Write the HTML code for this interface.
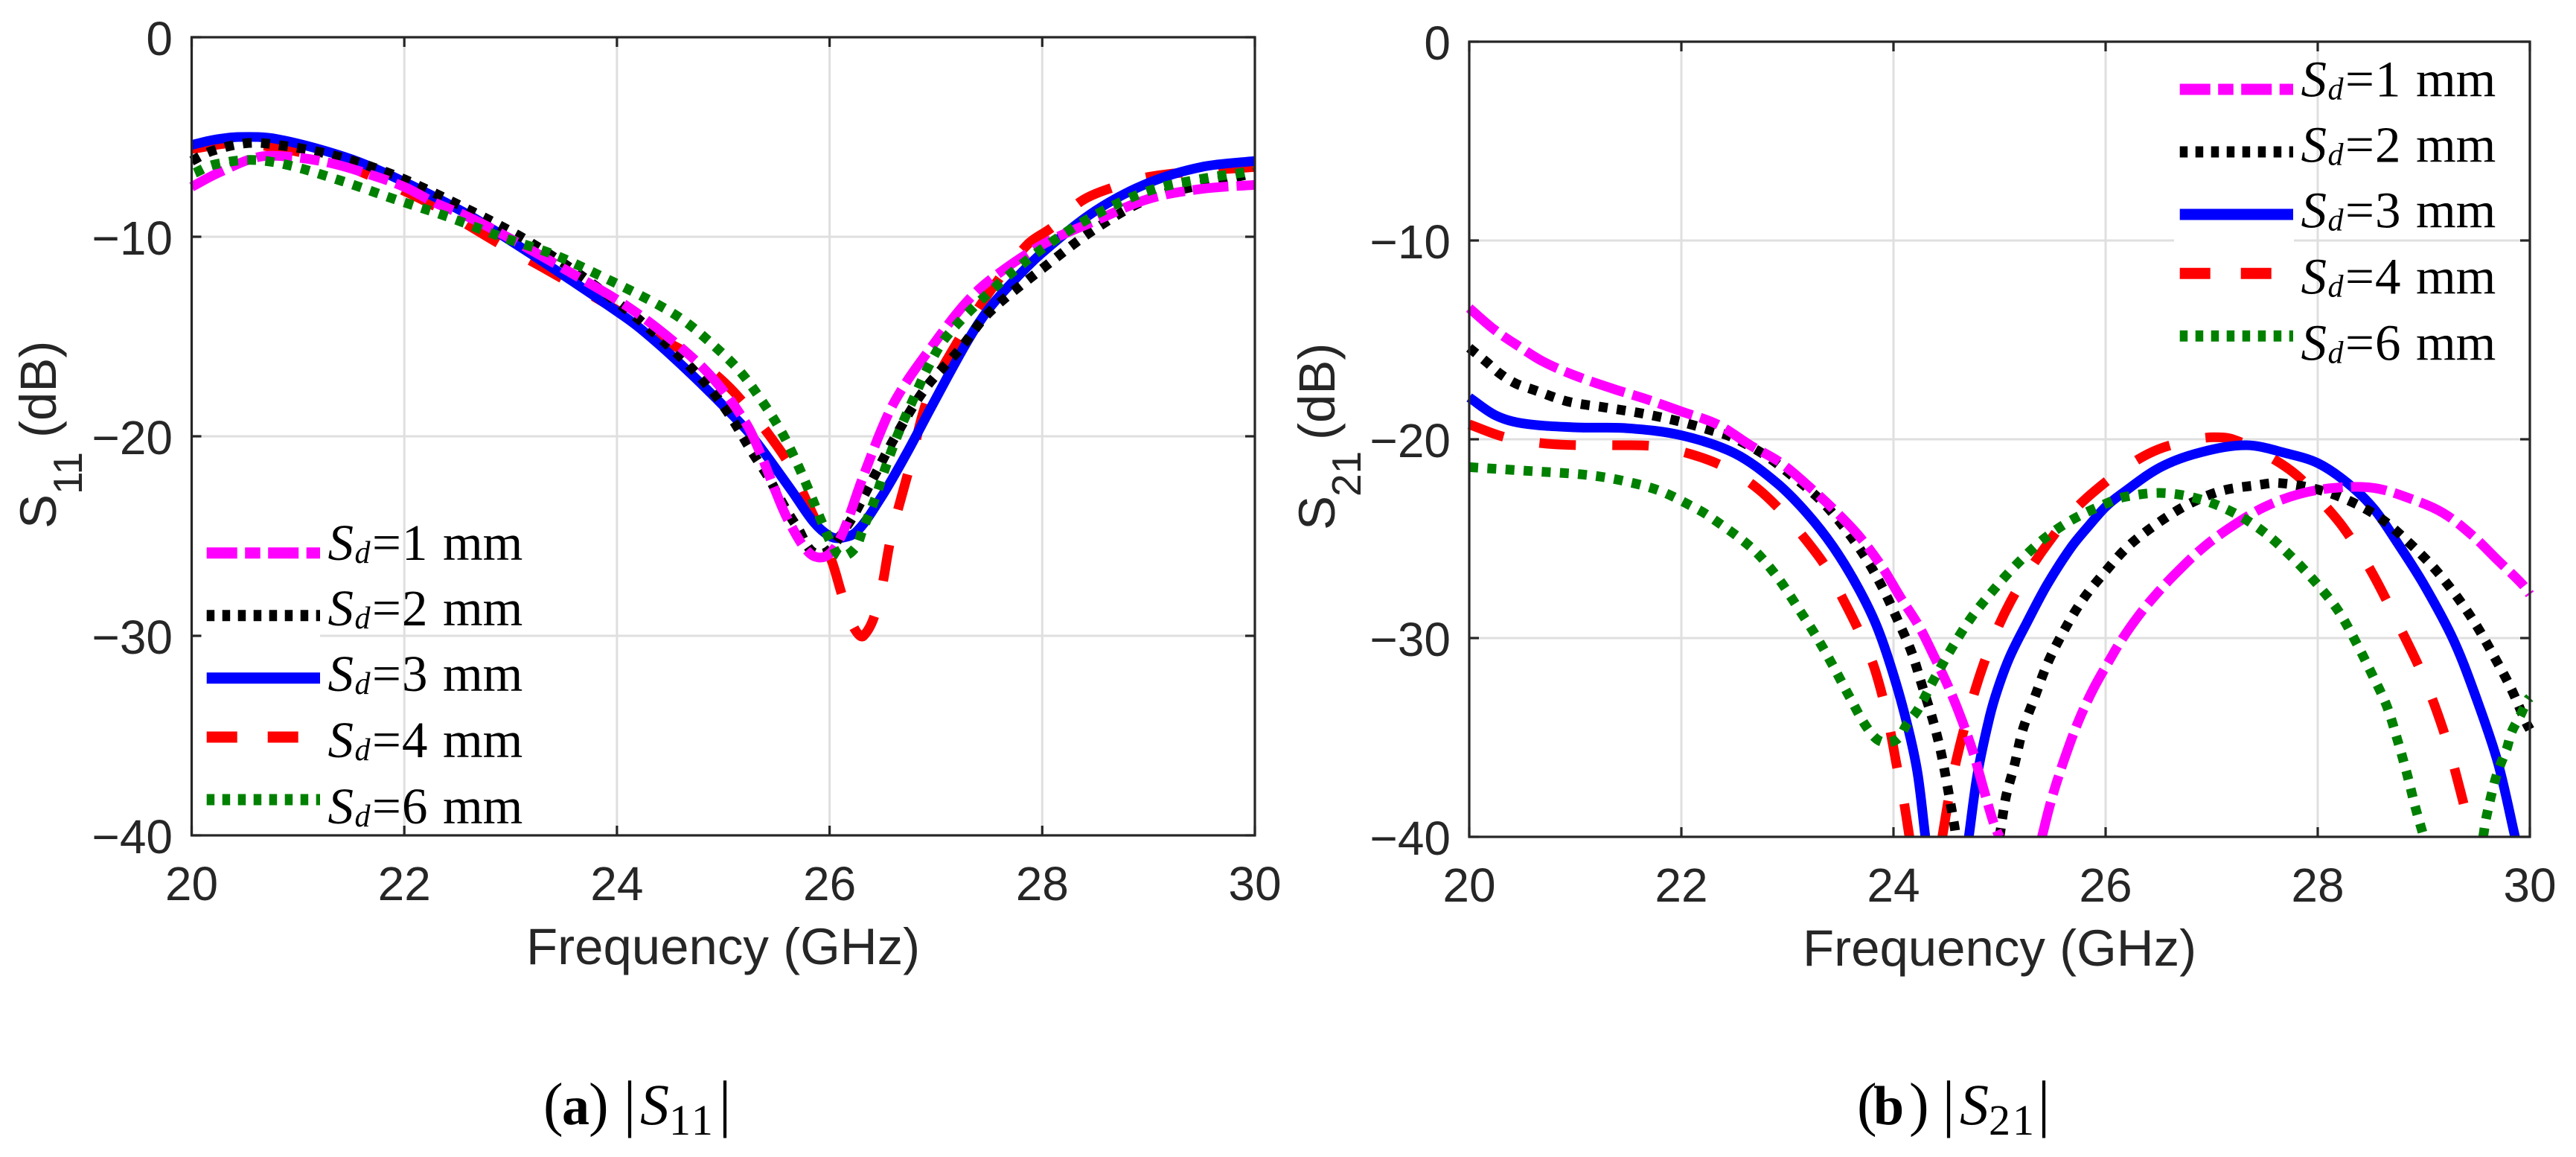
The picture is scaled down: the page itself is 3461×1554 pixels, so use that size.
<!DOCTYPE html>
<html lang="en">
<head>
<meta charset="utf-8">
<title>S11 and S21 versus frequency</title>
<style>
html,body{margin:0;padding:0;background:#fff;}
svg{display:block;}
.tick{font-family:"Liberation Sans",sans-serif;font-size:64px;fill:#262626;}
.axl{font-family:"Liberation Sans",sans-serif;font-size:69px;fill:#262626;}
.leg{font-family:"Liberation Serif",serif;font-size:69px;fill:#000;}
.cap{font-family:"Liberation Serif",serif;fill:#000;}
</style>
</head>
<body>
<svg id="fig" xmlns="http://www.w3.org/2000/svg" width="3461" height="1554" viewBox="0 0 3461 1554">
<defs>
<clipPath id="clipA"><rect x="250" y="50" width="1443" height="1072"/></clipPath>
<clipPath id="clipB"><rect x="1967" y="56" width="1440" height="1068"/></clipPath>
</defs>
<rect x="0" y="0" width="3461" height="1554" fill="#fff"/>
<g id="panelA"></g>
<g id="panelB"></g>

<text class="axl" x="971.5" y="1295" text-anchor="middle">Frequency (GHz)</text>
<text class="axl" x="2686.5" y="1297" text-anchor="middle">Frequency (GHz)</text>

<g>
<text class="axl" transform="translate(75,710) rotate(-90)">S</text>
<text class="axl" style="font-size:55px" transform="translate(110,664) rotate(-90)">11</text>
<text class="axl" transform="translate(75,588) rotate(-90)">(dB)</text>
</g>
<g>
<text class="axl" transform="translate(1793,712) rotate(-90)">S</text>
<text class="axl" style="font-size:55px" transform="translate(1828,667) rotate(-90)">21</text>
<text class="axl" transform="translate(1793,591) rotate(-90)">(dB)</text>
</g>

<g id="legendA">
<g>
<line x1="277.7" x2="430" y1="742.7" y2="742.7" stroke="#ff00ff" stroke-width="15" stroke-dasharray="41 10.5 20.5 10.5"/>
<text class="leg" y="752"><tspan x="440.5" font-style="italic">S</tspan><tspan x="476.5" dy="4" font-size="42" font-style="italic">d</tspan><tspan x="500" dy="-4">=</tspan><tspan x="540">1</tspan><tspan x="595">mm</tspan></text>
</g>
<g>
<line x1="277.7" x2="430" y1="826.7" y2="826.7" stroke="#000" stroke-width="15" stroke-dasharray="10.5 10.5"/>
<text class="leg" y="840"><tspan x="440.5" font-style="italic">S</tspan><tspan x="476.5" dy="4" font-size="42" font-style="italic">d</tspan><tspan x="500" dy="-4">=</tspan><tspan x="540">2</tspan><tspan x="595">mm</tspan></text>
</g>
<g>
<line x1="277.7" x2="430" y1="910.7" y2="910.7" stroke="#0000ff" stroke-width="15"/>
<text class="leg" y="928"><tspan x="440.5" font-style="italic">S</tspan><tspan x="476.5" dy="4" font-size="42" font-style="italic">d</tspan><tspan x="500" dy="-4">=</tspan><tspan x="540">3</tspan><tspan x="595">mm</tspan></text>
</g>
<g>
<line x1="277.7" x2="430" y1="990" y2="990" stroke="#ff0000" stroke-width="15" stroke-dasharray="41 41"/>
<text class="leg" y="1017"><tspan x="440.5" font-style="italic">S</tspan><tspan x="476.5" dy="4" font-size="42" font-style="italic">d</tspan><tspan x="500" dy="-4">=</tspan><tspan x="540">4</tspan><tspan x="595">mm</tspan></text>
</g>
<g>
<line x1="277.7" x2="430" y1="1074" y2="1074" stroke="#008000" stroke-width="15" stroke-dasharray="10.5 10.5"/>
<text class="leg" y="1106"><tspan x="440.5" font-style="italic">S</tspan><tspan x="476.5" dy="4" font-size="42" font-style="italic">d</tspan><tspan x="500" dy="-4">=</tspan><tspan x="540">6</tspan><tspan x="595">mm</tspan></text>
</g>
</g>

<g id="legendB" transform="translate(2651,-622.7)">
<g>
<line x1="277.7" x2="430" y1="742.7" y2="742.7" stroke="#ff00ff" stroke-width="15" stroke-dasharray="41 10.5 20.5 10.5"/>
<text class="leg" y="752"><tspan x="440.5" font-style="italic">S</tspan><tspan x="476.5" dy="4" font-size="42" font-style="italic">d</tspan><tspan x="500" dy="-4">=</tspan><tspan x="540">1</tspan><tspan x="595">mm</tspan></text>
</g>
<g>
<line x1="277.7" x2="430" y1="826.7" y2="826.7" stroke="#000" stroke-width="15" stroke-dasharray="10.5 10.5"/>
<text class="leg" y="840"><tspan x="440.5" font-style="italic">S</tspan><tspan x="476.5" dy="4" font-size="42" font-style="italic">d</tspan><tspan x="500" dy="-4">=</tspan><tspan x="540">2</tspan><tspan x="595">mm</tspan></text>
</g>
<g>
<line x1="277.7" x2="430" y1="910.7" y2="910.7" stroke="#0000ff" stroke-width="15"/>
<text class="leg" y="928"><tspan x="440.5" font-style="italic">S</tspan><tspan x="476.5" dy="4" font-size="42" font-style="italic">d</tspan><tspan x="500" dy="-4">=</tspan><tspan x="540">3</tspan><tspan x="595">mm</tspan></text>
</g>
<g>
<line x1="277.7" x2="430" y1="990" y2="990" stroke="#ff0000" stroke-width="15" stroke-dasharray="41 41"/>
<text class="leg" y="1017"><tspan x="440.5" font-style="italic">S</tspan><tspan x="476.5" dy="4" font-size="42" font-style="italic">d</tspan><tspan x="500" dy="-4">=</tspan><tspan x="540">4</tspan><tspan x="595">mm</tspan></text>
</g>
<g>
<line x1="277.7" x2="430" y1="1074" y2="1074" stroke="#008000" stroke-width="15" stroke-dasharray="10.5 10.5"/>
<text class="leg" y="1106"><tspan x="440.5" font-style="italic">S</tspan><tspan x="476.5" dy="4" font-size="42" font-style="italic">d</tspan><tspan x="500" dy="-4">=</tspan><tspan x="540">6</tspan><tspan x="595">mm</tspan></text>
</g>
</g>

<g>
<text class="cap" font-size="80" x="730" y="1510">(</text>
<text class="cap" font-size="74" font-weight="bold" x="755" y="1510">a</text>
<text class="cap" font-size="80" x="791" y="1510">)</text>
<text class="cap" font-size="85" x="837.5" y="1510">|</text>
<text class="cap" font-size="78" font-style="italic" x="860" y="1510">S</text>
<text class="cap" font-size="58" letter-spacing="3" x="899" y="1524">11</text>
<text class="cap" font-size="85" x="965.5" y="1510">|</text>
</g>
<g>
<text class="cap" font-size="80" x="2495" y="1510">(</text>
<text class="cap" font-size="74" font-weight="bold" x="2517" y="1510">b</text>
<text class="cap" font-size="80" x="2565" y="1510">)</text>
<text class="cap" font-size="85" x="2609.5" y="1510">|</text>
<text class="cap" font-size="78" font-style="italic" x="2633" y="1510">S</text>
<text class="cap" font-size="58" letter-spacing="3" x="2672" y="1524">21</text>
<text class="cap" font-size="85" x="2737.5" y="1510">|</text>
</g>
</svg>

<script>
// Axis tick values
var freqTicks = [20, 22, 24, 26, 28, 30];
var dbTicks = [0, -10, -20, -30, -40];

// Panel (a) |S11| readings
var s11Freq1mm = [20,20.25,20.63,20.94,21.3,21.63,22,22.29,22.6,23,23.5,24.1,24.59,24.92,25.22,25.36,25.48,25.62,25.82,25.97,26.11,26.31,26.55,26.72,26.92,27.25,27.5,28,28.5,29,29.5,30];
var s11Db1mm = [-7.5,-6.8,-6.0,-6.0,-6.3,-6.8,-7.5,-8.3,-9,-10.1,-11.6,-13.5,-15.5,-17.2,-19.4,-21,-22.6,-24.3,-25.9,-26,-25,-22.1,-18.9,-17.3,-15.8,-13.5,-12.2,-10.4,-9.2,-8.1,-7.6,-7.4];
var s11Freq2mm = [20,20.19,20.54,20.88,21.24,21.58,21.9,22.22,22.55,22.85,23.16,23.6,24.15,24.41,24.65,24.89,25.08,25.26,25.43,25.52,25.69,25.9,26.15,26.39,26.62,26.9,27.23,27.5,28,28.5,29,29.5,30];
var s11Db2mm = [-6.2,-5.7,-5.3,-5.45,-5.8,-6.3,-6.9,-7.65,-8.5,-9.3,-10.2,-11.7,-13.9,-15.1,-16.3,-17.7,-19.1,-20.7,-22.1,-23,-24.5,-25.9,-24.6,-22.3,-20,-17.6,-15.6,-13.8,-11.6,-9.6,-8.1,-7.4,-6.8];
var s11Freq3mm = [20,20.2,20.44,20.8,21.44,21.9,22.57,23,23.63,24.07,24.22,24.48,24.78,25.08,25.27,25.64,25.85,26,26.1,26.25,26.48,26.72,26.95,27.3,27.5,27.75,28,28.5,29,29.5,30];
var s11Db3mm = [-5.4,-5.15,-5,-5.1,-6,-7,-8.8,-10.2,-12.4,-14,-14.6,-15.8,-17.3,-18.9,-20,-22.7,-24.3,-25,-25.1,-24.8,-23.1,-20.9,-18.6,-15.2,-13.6,-12.1,-10.8,-8.7,-7.3,-6.5,-6.2];
var s11Freq4mm = [20,20.4,20.75,21.2,21.66,22.3,22.91,23.29,24.07,24.45,24.71,25.03,25.25,25.44,25.63,25.78,25.9,26.03,26.12,26.23,26.32,26.46,26.58,26.75,26.93,27.2,27.5,27.86,28.1,28.37,28.68,29,29.5,30];
var s11Db4mm = [-5.6,-5.3,-5.5,-6,-6.9,-8.5,-10.4,-11.5,-13.9,-15.2,-16,-17.4,-18.7,-20,-21.5,-23.2,-24.6,-26.4,-28,-29.6,-30,-28.3,-25,-21.6,-18,-15.3,-12.8,-10.4,-9.5,-8.2,-7.5,-7,-6.7,-6.5];
var s11Freq6mm = [20.03,20.2,20.55,20.9,21.41,21.9,22.41,22.91,23.41,23.88,24.35,24.63,24.9,25.15,25.36,25.54,25.69,25.82,25.95,26.02,26.11,26.24,26.31,26.43,26.53,26.65,26.79,26.93,27.1,27.5,28,28.5,29,29.5,30];
var s11Db6mm = [-6.8,-6.4,-6.15,-6.4,-7.2,-8.1,-9,-10,-10.9,-12.05,-13.3,-14.2,-15.4,-16.7,-18.2,-19.7,-21.3,-22.9,-24.6,-25.4,-26,-25.6,-24.7,-23.1,-21.5,-19.8,-18.1,-16.5,-15,-12.8,-10.6,-8.9,-7.7,-7.1,-6.7];

// Panel (b) |S21| readings
var s21Freq1mm = [20,20.24,20.46,20.7,21,21.35,21.68,22,22.34,22.65,22.94,23.25,23.45,23.68,23.89,24.06,24.24,24.39,24.53,24.65,24.76,24.85,24.95,25,25.4,25.47,25.53,25.63,25.75,25.89,26.06,26.15,26.3,26.46,26.67,26.93,27.2,27.5,27.83,28.15,28.53,28.88,29.18,29.45,29.7,29.93,30];
var s21Db1mm = [-13.4,-14.5,-15.3,-16.1,-16.8,-17.45,-18,-18.6,-19.25,-20.3,-21.2,-22.6,-23.6,-24.9,-26.4,-27.9,-29.4,-31,-32.6,-34.2,-35.9,-37.6,-39.4,-40,-40,-38.5,-37.4,-35.8,-34.1,-32.5,-30.9,-30.1,-28.95,-27.9,-26.7,-25.4,-24.35,-23.4,-22.75,-22.45,-22.45,-23,-23.7,-24.8,-26.1,-27.3,-27.8];
var s21Freq2mm = [20,20.16,20.29,20.44,20.6,20.93,21.28,21.63,21.98,22.31,22.48,22.79,23.06,23.32,23.53,23.73,23.9,24.04,24.17,24.27,24.37,24.45,24.51,24.57,24.59,25,25.06,25.14,25.22,25.33,25.45,25.6,25.78,25.99,26.21,26.47,26.77,27.09,27.44,27.63,27.98,28.3,28.6,28.86,29.1,29.31,29.5,29.67,29.82,29.96,30];
var s21Db2mm = [-15.4,-16.1,-16.7,-17.2,-17.5,-18.1,-18.4,-18.7,-19.1,-19.6,-19.9,-20.8,-21.9,-23.1,-24.4,-25.9,-27.5,-29.1,-30.7,-32.4,-34.1,-35.8,-37.5,-39.3,-40,-40,-38,-36.4,-34.6,-33,-31.3,-29.7,-28.1,-26.7,-25.4,-24.3,-23.3,-22.6,-22.3,-22.2,-22.5,-23.1,-24,-25.2,-26.5,-27.9,-29.4,-31,-32.5,-34.2,-34.6];
var s21Freq3mm = [20,20.25,20.5,21,21.5,22,22.5,22.9,23.18,23.43,23.67,23.85,24.02,24.15,24.23,24.3,24.71,24.79,24.9,24.98,25.1,25.26,25.45,25.68,25.85,26,26.15,26.52,26.9,27.33,27.7,28,28.28,28.53,28.75,29,29.28,29.5,29.7,29.86];
var s21Db3mm = [-17.9,-18.8,-19.2,-19.4,-19.45,-19.8,-20.7,-22.2,-23.7,-25.4,-27.5,-29.5,-32.2,-34.8,-36.9,-40,-40,-36.9,-34.1,-32.6,-30.9,-29.2,-27.3,-25.4,-24.3,-23.4,-22.75,-21.4,-20.65,-20.3,-20.7,-21.2,-22.2,-23.5,-25.2,-27.3,-30.1,-33.1,-36.3,-40];
var s21Freq4mm = [20,20.34,20.69,21.04,21.39,21.74,22.09,22.41,22.7,22.94,23.18,23.36,23.53,23.67,23.8,23.88,23.96,24.03,24.1,24.15,24.46,24.55,24.65,24.8,24.95,25.1,25.28,25.46,25.68,25.92,26.22,26.5,26.85,27.02,27.2,27.52,27.8,28.03,28.25,28.5,28.75,29,29.2,29.35,29.45];
var s21Db4mm = [-19.25,-19.9,-20.2,-20.3,-20.3,-20.35,-20.75,-21.4,-22.4,-23.6,-25.1,-26.4,-28.1,-29.6,-31.2,-32.6,-34.4,-36.4,-38.3,-40,-40,-37.2,-34.9,-32.1,-29.9,-28.2,-26.6,-25.2,-23.7,-22.5,-21.3,-20.5,-20,-19.9,-20,-20.8,-21.8,-23.1,-24.5,-26.6,-29.2,-32,-34.9,-37.8,-40];
var s21Freq6mm = [20,20.58,21.12,21.46,21.8,22.11,22.27,22.67,22.9,23.09,23.27,23.43,23.59,23.75,23.88,24.03,24.13,24.23,24.38,24.55,24.73,24.94,25.16,25.42,25.7,26.02,26.18,26.53,26.88,27.21,27.5,27.75,27.98,28.19,28.36,28.51,28.65,28.75,28.84,28.92,29,29.56,29.59,29.67,29.72,29.78,29.83,29.91,29.98,30];
var s21Db6mm = [-21.4,-21.6,-21.8,-22.1,-22.6,-23.4,-23.9,-25.5,-26.9,-28.4,-29.9,-31.4,-33,-34.5,-35.2,-35.1,-34.3,-33.6,-32.1,-30.5,-29,-27.6,-26.3,-25,-24,-23.2,-22.9,-22.7,-23,-23.7,-24.7,-25.9,-27.2,-28.6,-30.2,-31.8,-33.4,-35.1,-36.8,-38.5,-40,-40,-39,-37.2,-36.4,-35.6,-34.7,-33.9,-33.1,-33];

var SVGNS = 'http://www.w3.org/2000/svg';

var panelA = {
  key: 's11', root: document.getElementById('panelA'), clip: 'clipA',
  left: 257.5, right: 1686, top: 50, bottom: 1122,
  labelRight: 232, tickBaseline: 1209,
  mask: [270, 700, 160, 415],
  series: [
    {name: '4mm', freq: s11Freq4mm, db: s11Db4mm, color: '#ff0000', dash: '49 49'},
    {name: '3mm', freq: s11Freq3mm, db: s11Db3mm, color: '#0000ff', dash: ''},
    {name: '2mm', freq: s11Freq2mm, db: s11Db2mm, color: '#000000', dash: '12 12.4'},
    {name: '1mm', freq: s11Freq1mm, db: s11Db1mm, color: '#ff00ff', dash: '48 11 26 11'},
    {name: '6mm', freq: s11Freq6mm, db: s11Db6mm, color: '#008000', dash: '12 12.4'}
  ]
};
var panelB = {
  key: 's21', root: document.getElementById('panelB'), clip: 'clipB',
  left: 1974, right: 3399, top: 56, bottom: 1124,
  labelRight: 1949, tickBaseline: 1211,
  mask: [2921, 80, 161, 400],
  series: [
    {name: '4mm', freq: s21Freq4mm, db: s21Db4mm, color: '#ff0000', dash: '49 49'},
    {name: '3mm', freq: s21Freq3mm, db: s21Db3mm, color: '#0000ff', dash: ''},
    {name: '2mm', freq: s21Freq2mm, db: s21Db2mm, color: '#000000', dash: '12 12.4'},
    {name: '1mm', freq: s21Freq1mm, db: s21Db1mm, color: '#ff00ff', dash: '48 11 26 11'},
    {name: '6mm', freq: s21Freq6mm, db: s21Db6mm, color: '#008000', dash: '12 12.4'}
  ]
};

function xScale(p, f) { return p.left + (f - 20) / 10 * (p.right - p.left); }
function yScale(p, d) { return p.top + (-d) / 40 * (p.bottom - p.top); }

function makeLine(parent, x1, y1, x2, y2, color, width) {
  var l = document.createElementNS(SVGNS, 'line');
  l.setAttribute('x1', x1);
  l.setAttribute('y1', y1);
  l.setAttribute('x2', x2);
  l.setAttribute('y2', y2);
  l.setAttribute('stroke', color);
  l.setAttribute('stroke-width', width);
  parent.appendChild(l);
  return l;
}

// Smooth curve through the points; a jump along the -40 floor leaves the plot, so split there
function curvePath(p, freq, db) {
  var pts = [];
  for (var i = 0; i < freq.length; i++) pts.push([xScale(p, freq[i]), yScale(p, db[i]), db[i]]);
  var runs = [[]];
  for (var j = 0; j < pts.length; j++) {
    runs[runs.length - 1].push(pts[j]);
    if (j < pts.length - 1 && pts[j][2] <= -40 && pts[j + 1][2] <= -40) runs.push([]);
  }
  var out = '';
  runs.forEach(function (r) {
    if (r.length < 2) return;
    out += 'M' + r[0][0].toFixed(1) + ' ' + r[0][1].toFixed(1);
    for (var k = 0; k < r.length - 1; k++) {
      var a = r[Math.max(0, k - 1)], b = r[k], c = r[k + 1], d = r[Math.min(r.length - 1, k + 2)];
      var seg = Math.hypot(c[0] - b[0], c[1] - b[1]);
      var sb = Math.hypot(c[0] - a[0], c[1] - a[1]) || 1;
      var sc = Math.hypot(d[0] - b[0], d[1] - b[1]) || 1;
      var c1x = b[0] + (c[0] - a[0]) / sb * seg / 3;
      var c1y = b[1] + (c[1] - a[1]) / sb * seg / 3;
      var c2x = c[0] - (d[0] - b[0]) / sc * seg / 3;
      var c2y = c[1] - (d[1] - b[1]) / sc * seg / 3;
      out += 'C' + c1x.toFixed(1) + ' ' + c1y.toFixed(1) + ' ' + c2x.toFixed(1) + ' ' + c2y.toFixed(1) + ' ' + c[0].toFixed(1) + ' ' + c[1].toFixed(1);
    }
  });
  return out;
}

function drawPanel(p) {
  var g = p.root;
  var grid = document.createElementNS(SVGNS, 'g');
  
  
  g.appendChild(grid);
  freqTicks.forEach(function (f) {
    var l = makeLine(grid, xScale(p, f), p.top, xScale(p, f), p.bottom, '#dfdfdf', 3);
    
    
  });
  dbTicks.forEach(function (d) {
    var l = makeLine(grid, p.left, yScale(p, d), p.right, yScale(p, d), '#dfdfdf', 3);
    
    
  });

  var curves = document.createElementNS(SVGNS, 'g');
  curves.setAttribute('clip-path', 'url(#' + p.clip + ')');
  
  
  g.appendChild(curves);
  p.series.forEach(function (s) {
    var path = document.createElementNS(SVGNS, 'path');
    path.setAttribute('d', curvePath(p, s.freq, s.db));
    path.setAttribute('fill', 'none');
    path.setAttribute('stroke', s.color);
    path.setAttribute('stroke-width', '13');
    path.setAttribute('stroke-linejoin', 'round');
    if (s.dash) path.setAttribute('stroke-dasharray', s.dash);
    
    
    curves.appendChild(path);
  });

  var mask = document.createElementNS(SVGNS, 'rect');
  mask.setAttribute('x', p.mask[0]);
  mask.setAttribute('y', p.mask[1]);
  mask.setAttribute('width', p.mask[2]);
  mask.setAttribute('height', p.mask[3]);
  mask.setAttribute('fill', '#fff');
  
  
  g.appendChild(mask);

  var axes = document.createElementNS(SVGNS, 'g');
  
  
  g.appendChild(axes);
  var box = document.createElementNS(SVGNS, 'rect');
  box.setAttribute('x', p.left);
  box.setAttribute('y', p.top);
  box.setAttribute('width', p.right - p.left);
  box.setAttribute('height', p.bottom - p.top);
  box.setAttribute('fill', 'none');
  box.setAttribute('stroke', '#262626');
  box.setAttribute('stroke-width', '3.2');
  
  
  axes.appendChild(box);

  var tickLen = 13;
  freqTicks.forEach(function (f) {
    var x = xScale(p, f);
    var t1 = makeLine(axes, x, p.bottom, x, p.bottom - tickLen, '#262626', 3.2);
    
    
    var t2 = makeLine(axes, x, p.top, x, p.top + tickLen, '#262626', 3.2);
    
    
    var label = document.createElementNS(SVGNS, 'text');
    label.setAttribute('class', 'tick');
    label.setAttribute('x', x);
    label.setAttribute('y', p.tickBaseline);
    label.setAttribute('text-anchor', 'middle');
    label.textContent = String(f);
    
    
    axes.appendChild(label);
  });
  dbTicks.forEach(function (d) {
    var y = yScale(p, d);
    var t1 = makeLine(axes, p.left, y, p.left + tickLen, y, '#262626', 3.2);
    
    
    var t2 = makeLine(axes, p.right, y, p.right - tickLen, y, '#262626', 3.2);
    
    
    var label = document.createElementNS(SVGNS, 'text');
    label.setAttribute('class', 'tick');
    label.setAttribute('x', p.labelRight);
    label.setAttribute('y', y + 24);
    label.setAttribute('text-anchor', 'end');
    label.textContent = d < 0 ? '\u2212' + Math.abs(d) : String(d);
    
    
    axes.appendChild(label);
  });
}

drawPanel(panelA);
drawPanel(panelB);
</script>
</body>
</html>
